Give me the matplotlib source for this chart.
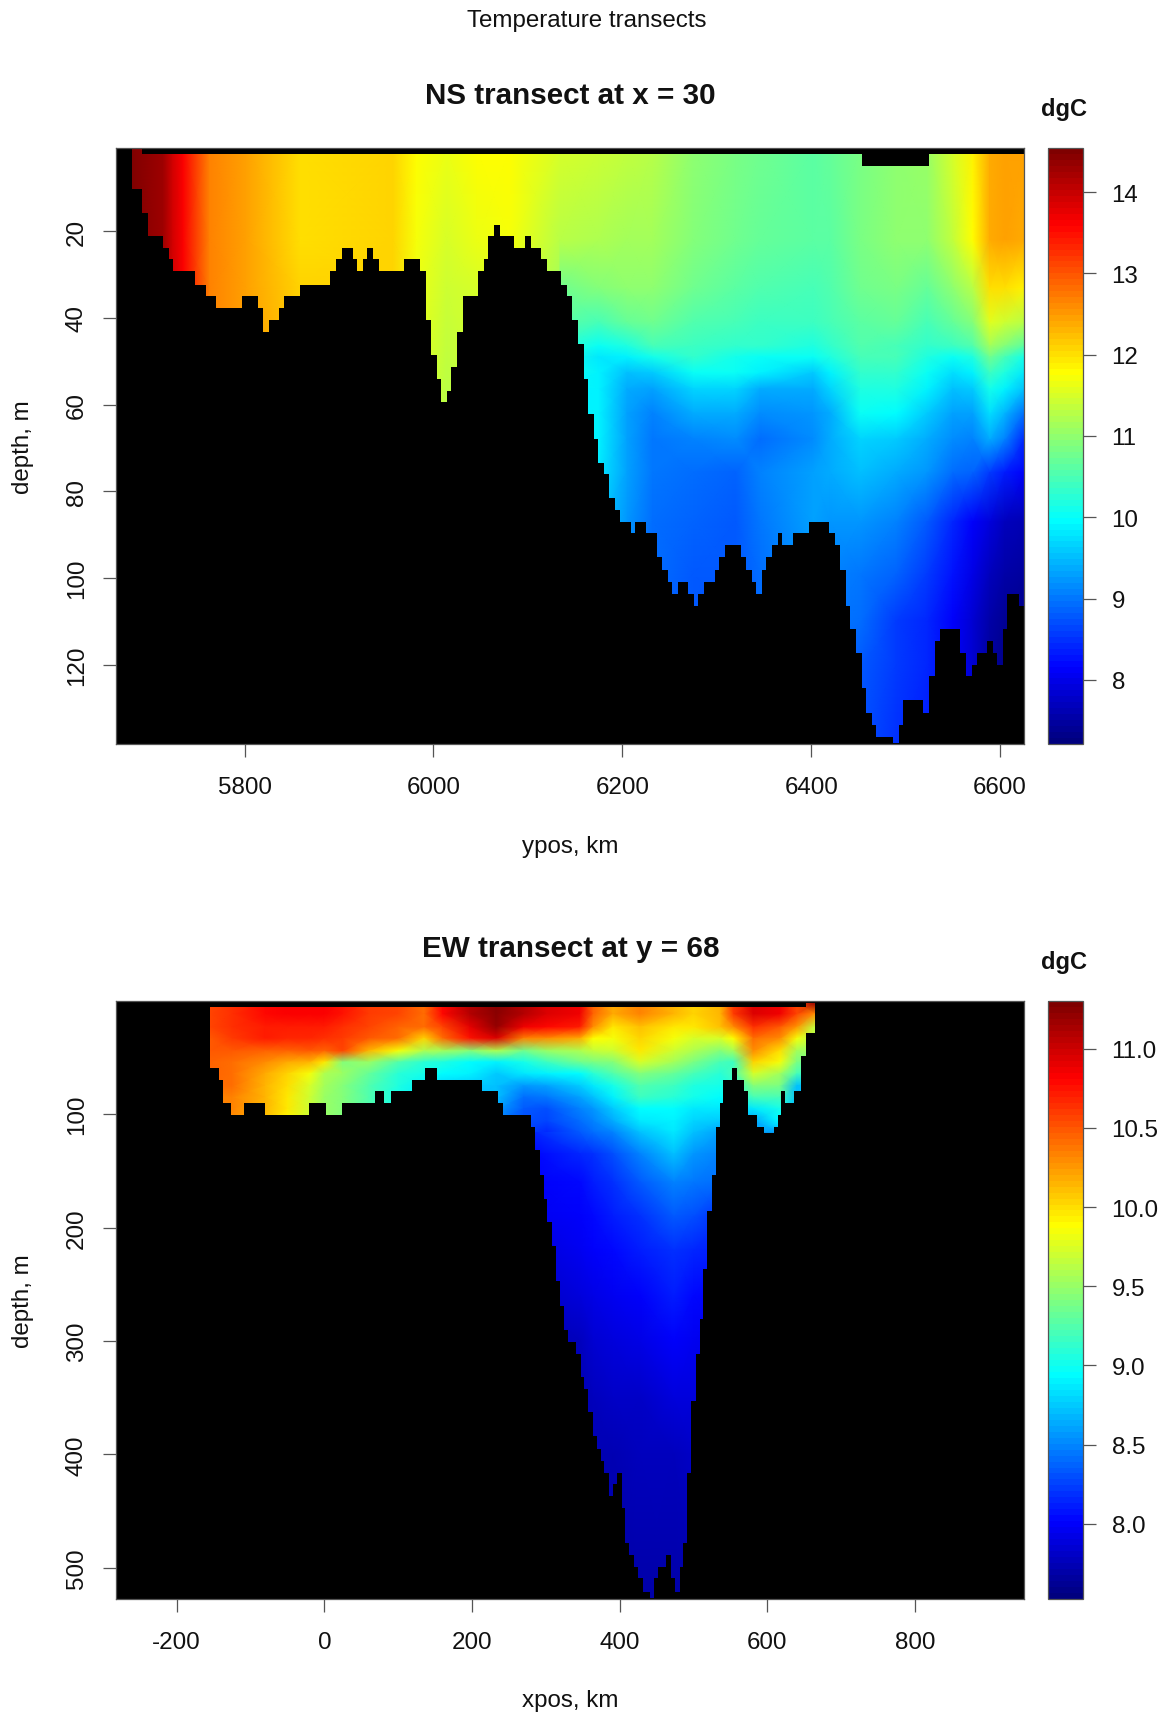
import numpy as np
import matplotlib
matplotlib.use("Agg")
import matplotlib.pyplot as plt
from matplotlib.colors import LinearSegmentedColormap

plt.rcParams['font.family'] = ['Liberation Sans', 'DejaVu Sans']
plt.rcParams['axes.unicode_minus'] = False

# ---------- NS transect ----------
ns_shelf_km = [5680, 5714, 5724, 5735, 5763, 5802, 5859, 5957, 5982, 6014, 6046, 6081, 6134]
ns_shelf_depth = [1, 22, 33, 60]
ns_shelf_temp = [
    [14.5, 14.3, 13.95, 13.6, 12.7, 12.45, 12.0, 12.05, 11.8, 11.65, 11.8, 11.8, 11.5],
    [14.5, 14.3, 13.95, 13.6, 12.7, 12.45, 12.0, 12.05, 11.75, 11.5, 11.65, 11.7, 11.3],
    [14.5, 14.3, 13.95, 13.6, 12.7, 12.45, 12.1, 12.05, 11.65, 11.4, 11.5, 11.6, 11.1],
    [14.5, 14.3, 13.95, 13.6, 12.7, 12.45, 12.2, 12.05, 11.6, 11.3, 11.4, 11.5, 11.0],
]
ns_deep_km = [6134, 6175, 6205, 6232, 6275, 6320, 6346, 6402, 6420, 6452, 6490, 6523, 6550, 6571, 6589, 6605, 6626]
ns_deep_depth = [1, 22, 33, 41, 46.4, 49, 52.6, 56.4, 62, 68, 75.6, 87, 99, 110, 120, 138.3]
ns_deep_temp = [
    [11.5, 11.4, 11.35, 11.3, 11.0, 10.85, 10.75, 10.65, 10.7, 10.85, 11.0, 11.05, 11.5, 11.9, 12.4, 12.45, 12.45],
    [11.3, 11.2, 11.15, 11.1, 10.9, 10.75, 10.7, 10.6, 10.65, 10.85, 11.0, 11.0, 11.35, 11.8, 12.4, 12.45, 12.4],
    [10.8, 10.9, 10.95, 10.95, 10.75, 10.6, 10.55, 10.5, 10.55, 10.75, 10.85, 10.7, 11.0, 11.3, 12.0, 12.0, 11.9],
    [10.6, 10.5, 10.7, 10.75, 10.55, 10.45, 10.4, 10.4, 10.45, 10.65, 10.7, 10.5, 10.7, 10.9, 11.6, 11.4, 11.3],
    [10.3, 10.0, 10.2, 10.45, 10.4, 10.3, 10.3, 10.2, 10.35, 10.55, 10.5, 10.3, 10.4, 10.55, 11.1, 10.9, 10.6],
    [10.2, 9.8, 9.85, 10.1, 10.3, 10.1, 10.0, 10.0, 10.2, 10.45, 10.45, 10.2, 10.05, 10.2, 10.8, 10.5, 10.1],
    [10.1, 9.9, 9.5, 9.6, 10.0, 10.0, 9.9, 9.6, 9.9, 10.35, 10.3, 10.05, 9.75, 9.9, 10.4, 10.2, 9.8],
    [9.9, 9.9, 9.4, 9.3, 9.7, 9.7, 9.4, 9.35, 9.7, 10.2, 10.2, 9.9, 9.5, 9.6, 10.1, 9.85, 9.5],
    [9.9, 9.9, 9.3, 9.1, 9.4, 9.4, 9.15, 9.2, 9.4, 10.0, 9.95, 9.6, 9.3, 9.3, 9.75, 9.45, 8.95],
    [9.85, 9.85, 9.3, 9.0, 9.05, 9.15, 8.9, 9.15, 9.35, 9.65, 9.6, 9.4, 9.15, 9.1, 9.35, 9.1, 8.4],
    [9.8, 9.8, 9.3, 9.0, 8.95, 8.85, 9.05, 9.3, 9.4, 9.5, 9.4, 9.2, 8.95, 8.85, 8.6, 8.35, 8.1],
    [9.7, 9.6, 9.2, 8.95, 8.85, 8.75, 9.0, 9.3, 9.2, 9.2, 9.1, 8.75, 8.4, 8.1, 7.9, 7.7, 7.6],
    [9.5, 9.4, 9.1, 8.9, 8.8, 8.75, 8.95, 9.2, 9.1, 9.0, 8.85, 8.6, 8.25, 7.95, 7.7, 7.55, 7.5],
    [9.4, 9.3, 9.0, 8.85, 8.75, 8.7, 8.9, 9.1, 9.0, 8.9, 8.6, 8.45, 8.15, 7.85, 7.55, 7.4, 7.35],
    [9.4, 9.3, 9.0, 8.85, 8.75, 8.7, 8.9, 9.1, 8.95, 8.8, 8.55, 8.4, 8.1, 7.8, 7.5, 7.35, 7.3],
    [9.4, 9.3, 9.0, 8.85, 8.75, 8.7, 8.9, 9.1, 8.9, 8.7, 8.5, 8.35, 8.1, 7.8, 7.5, 7.35, 7.3],
]
# (left edge km, sea-floor depth m) per run of grid columns
ns_floor = [
    (5663.6, 0.85), (5680.9, 10.2), (5691.8, 15.8), (5698.2, 21.2), (5713.7, 23.9), (5720.1, 26.5),
    (5724.6, 29.2), (5747.9, 32.3), (5758.9, 35.0), (5769.5, 37.8), (5797.7, 35.0), (5814.6, 37.8),
    (5819.2, 43.2), (5825.6, 40.5), (5836.5, 37.8), (5841.4, 35.0), (5858.4, 32.3), (5890.9, 29.2),
    (5897.2, 26.5), (5903.6, 23.9), (5914.5, 26.5), (5919.1, 29.2), (5925.4, 26.5), (5930.0, 23.9),
    (5936.4, 26.5), (5942.4, 29.2), (5969.2, 26.5), (5986.1, 29.2), (5992.5, 40.5), (5997.1, 48.6),
    (6003.4, 54.1), (6008.0, 59.5), (6014.0, 56.8), (6019.0, 51.4), (6025.0, 43.2), (6031.3, 35.0),
    (6046.8, 29.2), (6053.2, 26.5), (6057.8, 21.2), (6064.1, 18.5), (6070.1, 21.2), (6085.7, 23.9),
    (6096.6, 21.2), (6103.0, 23.9), (6113.9, 26.5), (6119.9, 29.2), (6135.4, 32.3), (6141.8, 35.0),
    (6146.7, 40.5), (6152.7, 45.9), (6159.1, 54.1), (6164.0, 62.2), (6170.0, 68.0), (6174.6, 73.4),
    (6180.9, 76.1), (6185.5, 81.6), (6191.9, 84.3), (6197.9, 87.0), (6208.8, 89.7), (6213.8, 87.0),
    (6224.7, 89.7), (6237.0, 95.1), (6241.6, 98.2), (6248.0, 100.9), (6252.6, 103.7), (6258.9, 100.9),
    (6269.9, 103.7), (6275.9, 106.4), (6280.5, 103.7), (6286.8, 100.9), (6297.7, 98.2), (6302.7, 95.1),
    (6308.7, 92.4), (6326.0, 95.1), (6330.6, 98.2), (6336.9, 100.9), (6341.5, 103.7), (6347.5, 98.2),
    (6352.4, 95.1), (6358.8, 92.4), (6364.8, 89.7), (6369.4, 92.4), (6380.3, 89.7), (6397.3, 87.0),
    (6419.1, 89.7), (6425.5, 92.4), (6430.1, 98.2), (6436.4, 106.4), (6441.0, 111.8), (6447.4, 117.2),
    (6453.4, 125.3), (6458.3, 131.2), (6464.3, 133.9), (6468.9, 136.6), (6486.2, 138.0), (6492.5, 133.9),
    (6497.1, 128.1), (6518.7, 131.2), (6525.0, 122.6), (6531.4, 114.5), (6536.0, 111.8), (6557.5, 117.2),
    (6563.8, 122.6), (6570.2, 120.0), (6575.1, 117.2), (6586.1, 114.5), (6592.1, 117.2), (6597.0, 120.0),
    (6603.0, 111.8), (6607.6, 103.7), (6620.3, 106.4),
]
ns_lid = [(5663.6, 0.85), (5691.8, 2.2), (6453.4, 4.9), (6525.0, 2.2)]
ns_xlim = (5663.6, 6625.6)
ns_ylim = (138.3, 0.85)
ns_clim = (7.21, 14.54)
ns_xticks = [5800, 6000, 6200, 6400, 6600]
ns_yticks = [20, 40, 60, 80, 100, 120]
ns_cticks = [8, 9, 10, 11, 12, 13, 14]

# ---------- EW transect ----------
ew_top_km = [-155, -125, -80, -50, -20, 0, 25, 60, 100, 135, 160, 197, 233, 270, 301, 346, 364, 391,
             427, 473, 500, 536, 554, 581, 617, 640, 664]
ew_top_depth = [2, 11.5, 23, 33, 44, 54, 64, 75, 85, 95, 106, 116]
ew_top_temp = [
    [10.55, 10.65, 10.78, 10.83, 10.83, 10.83, 10.75, 10.62, 10.55, 10.42, 10.8, 11.1, 11.25, 11.1, 10.95, 10.85, 10.45, 10.2, 10.35, 10.15, 10.05, 10.15, 10.6, 10.95, 10.85, 10.55, 11.2],
    [10.55, 10.65, 10.78, 10.83, 10.83, 10.83, 10.75, 10.62, 10.55, 10.42, 10.8, 11.1, 11.25, 11.1, 10.95, 10.85, 10.45, 10.2, 10.35, 10.15, 10.05, 10.15, 10.6, 10.95, 10.85, 10.55, 10.3],
    [10.55, 10.65, 10.7, 10.72, 10.72, 10.7, 10.65, 10.58, 10.45, 10.4, 10.55, 10.9, 11.2, 10.85, 10.8, 10.7, 10.3, 9.95, 10.1, 9.95, 9.95, 10.1, 10.3, 10.65, 10.5, 10.25, 9.65],
    [10.5, 10.6, 10.7, 10.68, 10.68, 10.65, 10.6, 10.5, 10.4, 10.05, 10.4, 10.75, 10.95, 10.35, 10.3, 10.2, 9.9, 9.85, 10.05, 9.85, 9.75, 9.75, 9.9, 10.4, 10.3, 9.85, 9.6],
    [10.5, 10.5, 10.45, 10.45, 10.5, 10.45, 10.55, 10.15, 9.85, 9.6, 9.55, 9.45, 9.6, 9.35, 9.5, 9.6, 9.65, 9.7, 9.95, 9.7, 9.6, 9.45, 9.55, 10.3, 10.0, 9.55, 9.5],
    [10.45, 10.4, 10.3, 10.2, 10.15, 9.95, 9.45, 9.5, 9.25, 9.1, 9.05, 8.95, 8.92, 9.0, 9.15, 9.35, 9.4, 9.45, 9.75, 9.55, 9.4, 9.2, 9.15, 10.05, 9.85, 9.4, 9.3],
    [10.45, 10.4, 10.2, 10.05, 9.85, 9.6, 9.5, 9.3, 9.1, 9.0, 8.95, 8.9, 8.75, 8.85, 8.92, 8.95, 9.1, 9.25, 9.45, 9.3, 9.2, 9.1, 9.2, 9.75, 9.55, 9.2, 9.1],
    [10.4, 10.4, 10.15, 10.0, 9.75, 9.55, 9.45, 9.25, 9.05, 8.9, 8.8, 8.75, 8.7, 8.55, 8.6, 8.75, 8.85, 9.0, 9.25, 9.15, 9.05, 9.0, 9.1, 9.45, 9.4, 8.7, 8.7],
    [10.35, 10.35, 10.15, 9.95, 9.7, 9.5, 9.45, 9.25, 9.0, 8.85, 8.75, 8.7, 8.7, 8.4, 8.45, 8.6, 8.7, 8.9, 9.15, 9.1, 9.0, 8.95, 9.0, 9.2, 9.2, 8.7, 8.7],
    [10.35, 10.35, 10.15, 9.95, 9.7, 9.5, 9.45, 9.25, 9.0, 8.8, 8.7, 8.65, 8.6, 8.35, 8.3, 8.5, 8.55, 8.75, 8.95, 8.95, 8.85, 8.85, 8.8, 8.85, 9.0, 8.7, 8.7],
    [10.3, 10.3, 10.1, 9.9, 9.7, 9.5, 9.4, 9.2, 8.95, 8.75, 8.65, 8.6, 8.5, 8.3, 8.25, 8.4, 8.5, 8.65, 8.85, 8.92, 8.8, 8.75, 8.7, 8.6, 8.95, 8.7, 8.7],
    [10.3, 10.3, 10.1, 9.9, 9.7, 9.5, 9.4, 9.2, 8.95, 8.7, 8.6, 8.55, 8.45, 8.25, 8.15, 8.35, 8.4, 8.5, 8.7, 8.85, 8.7, 8.6, 8.6, 8.6, 8.6, 8.6, 8.6],
]
ew_deep_km = [286, 346, 364, 391, 427, 473, 500, 536]
ew_deep_depth = [116, 135, 160, 190, 220, 260, 300, 350, 400, 527.6]
ew_deep_temp = [
    [8.15, 8.35, 8.4, 8.5, 8.7, 8.85, 8.7, 8.6],
    [8.05, 8.15, 8.2, 8.3, 8.5, 8.7, 8.55, 8.5],
    [8.0, 8.05, 8.1, 8.2, 8.35, 8.5, 8.45, 8.4],
    [7.95, 8.0, 8.03, 8.1, 8.2, 8.35, 8.3, 8.2],
    [7.9, 7.95, 8.0, 8.02, 8.1, 8.2, 8.15, 8.1],
    [7.8, 7.88, 7.92, 7.97, 8.0, 8.1, 8.05, 8.0],
    [7.74, 7.78, 7.83, 7.88, 7.92, 8.0, 7.97, 7.92],
    [7.7, 7.74, 7.76, 7.79, 7.82, 7.88, 7.88, 7.84],
    [7.68, 7.7, 7.72, 7.74, 7.76, 7.78, 7.79, 7.79],
    [7.68, 7.68, 7.68, 7.68, 7.68, 7.68, 7.68, 7.68],
]
ew_floor = [
    (-282.6, 0.3), (-154.9, 59.2), (-142.7, 69.5), (-136.8, 90.4), (-126.9, 100.7), (-109.3, 90.4),
    (-80.8, 100.7), (-21.2, 90.4), (2.7, 100.7), (24.4, 90.4), (68.2, 79.8), (80.4, 90.4), (90.3, 79.8),
    (118.3, 69.5), (135.9, 59.2), (152.2, 69.5), (213.6, 79.8), (235.6, 90.4), (241.5, 100.7), (279.4, 111.0),
    (285.8, 131.5), (292.1, 153.5), (297.5, 174.7), (302.0, 195.3), (307.9, 216.2), (313.8, 247.4),
    (319.6, 269.4), (325.0, 290.6), (330.0, 300.9), (341.3, 311.2), (347.2, 332.0), (351.2, 342.4),
    (357.5, 362.9), (363.4, 383.8), (369.3, 395.6), (375.2, 405.9), (379.2, 416.2), (385.1, 437.0),
    (391.0, 426.5), (396.8, 416.2), (402.7, 447.3), (407.2, 478.2), (413.1, 488.8), (419.4, 499.1),
    (425.3, 509.4), (431.1, 521.5), (440.6, 526.8), (446.5, 509.4), (452.4, 499.1), (463.2, 488.8),
    (469.1, 509.4), (474.9, 521.5), (481.3, 499.1), (485.3, 478.2), (491.2, 416.2), (497.1, 352.6),
    (502.9, 311.2), (508.8, 280.6), (513.3, 236.5), (518.7, 185.0), (524.6, 153.5), (530.4, 111.0),
    (536.3, 90.4), (540.4, 69.5), (552.6, 59.2), (558.4, 69.5), (568.4, 79.8), (574.2, 100.7),
    (586.4, 111.0), (595.9, 121.5), (608.6, 111.0), (614.4, 100.7), (618.0, 79.8), (623.9, 90.4),
    (636.1, 79.8), (646.0, 48.9), (651.9, 28.0), (664.1, 0.3),
]
ew_lid = [(-282.6, 5.7), (651.9, 2.1), (664.1, 0.3)]
ew_xlim = (-282.6, 948)
ew_ylim = (527.6, 0.3)
ew_clim = (7.525, 11.3)
ew_xticks = [-200, 0, 200, 400, 600, 800]
ew_yticks = [100, 200, 300, 400, 500]
ew_cticks = [8.0, 8.5, 9.0, 9.5, 10.0, 10.5, 11.0]

palette = ["#00007F", "#0000FF", "#007FFF", "#00FFFF", "#7FFF7F", "#FFFF00", "#FF7F00", "#FF0000", "#7F0000"]
cmap = LinearSegmentedColormap.from_list("r_jet", palette, N=100)

W, H = 1167, 1715
fig = plt.figure(figsize=(W / 100, H / 100), dpi=100)
TXT = "#111111"
EDGE = "#555555"
FS = 17.4


def px_axes(l, t, r, b):
    return fig.add_axes([l / W, 1 - b / H, (r - l) / W, (b - t) / H])


def panel(top, bottom, meshes, floor, lid, xlim, ylim, clim, xticks, yticks, cticks, cfmt, title, xlabel):
    ax = px_axes(115.7, top, 1024.3, bottom)
    ax.set_facecolor("black")
    for xs, ds, temp in meshes:
        m = ax.pcolormesh(xs, ds, np.array(temp), shading="gouraud", cmap=cmap,
                          vmin=clim[0], vmax=clim[1], zorder=1)
    fk, fd = zip(*floor)
    ax.fill_between(list(fk) + [xlim[1]], list(fd) + [fd[-1]], ylim[0], step="post",
                    color="black", lw=0, zorder=2)
    lk, ld = zip(*lid)
    ax.fill_between(list(lk) + [xlim[1]], ylim[1], list(ld) + [ld[-1]], step="post",
                    color="black", lw=0, zorder=2)
    ax.set_xlim(*xlim)
    ax.set_ylim(*ylim)
    ax.set_xticks(xticks)
    ax.set_yticks(yticks)
    ax.tick_params(axis="x", length=9.4, width=0.9, color=EDGE, labelsize=FS, labelcolor=TXT, pad=14)
    ax.tick_params(axis="y", length=9.4, width=0.9, color=EDGE, labelsize=FS, labelcolor=TXT, pad=10.6)
    for lab in ax.get_yticklabels():
        lab.set_rotation(90)
        lab.set_va("center")
    for s in ax.spines.values():
        s.set_color(EDGE)
        s.set_linewidth(0.9)
    # colour bar
    cax = px_axes(1047.7, top, 1082.5, bottom)
    cb = fig.colorbar(m, cax=cax, ticks=cticks, format=cfmt)
    cb.outline.set_edgecolor(EDGE)
    cb.outline.set_linewidth(0.9)
    cax.tick_params(length=9.4, width=0.9, color=EDGE, labelsize=FS, labelcolor=TXT, pad=11.5)
    # texts
    fig.text(570.5 / W, 1 - (top - 53) / H, title, ha="center", va="center", fontsize=21.3,
             fontweight="bold", color=TXT)
    fig.text(1064.5 / W, 1 - (top - 40) / H, "dgC", ha="center", va="center", fontsize=17,
             fontweight="bold", color=TXT)
    fig.text(570.5 / W, 1 - (bottom + 101.5) / H, xlabel, ha="center", va="center", fontsize=FS, color=TXT)
    fig.text(23 / W, 1 - (top + bottom) / 2 / H, "depth, m", ha="center", va="center", rotation=90,
             fontsize=FS, color=TXT)


panel(149.3, 745,
      [(ns_shelf_km, ns_shelf_depth, ns_shelf_temp), (ns_deep_km, ns_deep_depth, ns_deep_temp)],
      ns_floor, ns_lid, ns_xlim, ns_ylim, ns_clim, ns_xticks, ns_yticks, ns_cticks, "%d",
      "NS transect at x = 30", "ypos, km")
panel(1002.3, 1600,
      [(ew_top_km, ew_top_depth, ew_top_temp), (ew_deep_km, ew_deep_depth, ew_deep_temp)],
      ew_floor, ew_lid, ew_xlim, ew_ylim, ew_clim, ew_xticks, ew_yticks, ew_cticks, "%.1f",
      "EW transect at y = 68", "xpos, km")

fig.text(587 / W, 1 - 21 / H, "Temperature transects", ha="center", va="center", fontsize=FS, color=TXT)

fig.savefig("out.png", dpi=100, facecolor="white")
